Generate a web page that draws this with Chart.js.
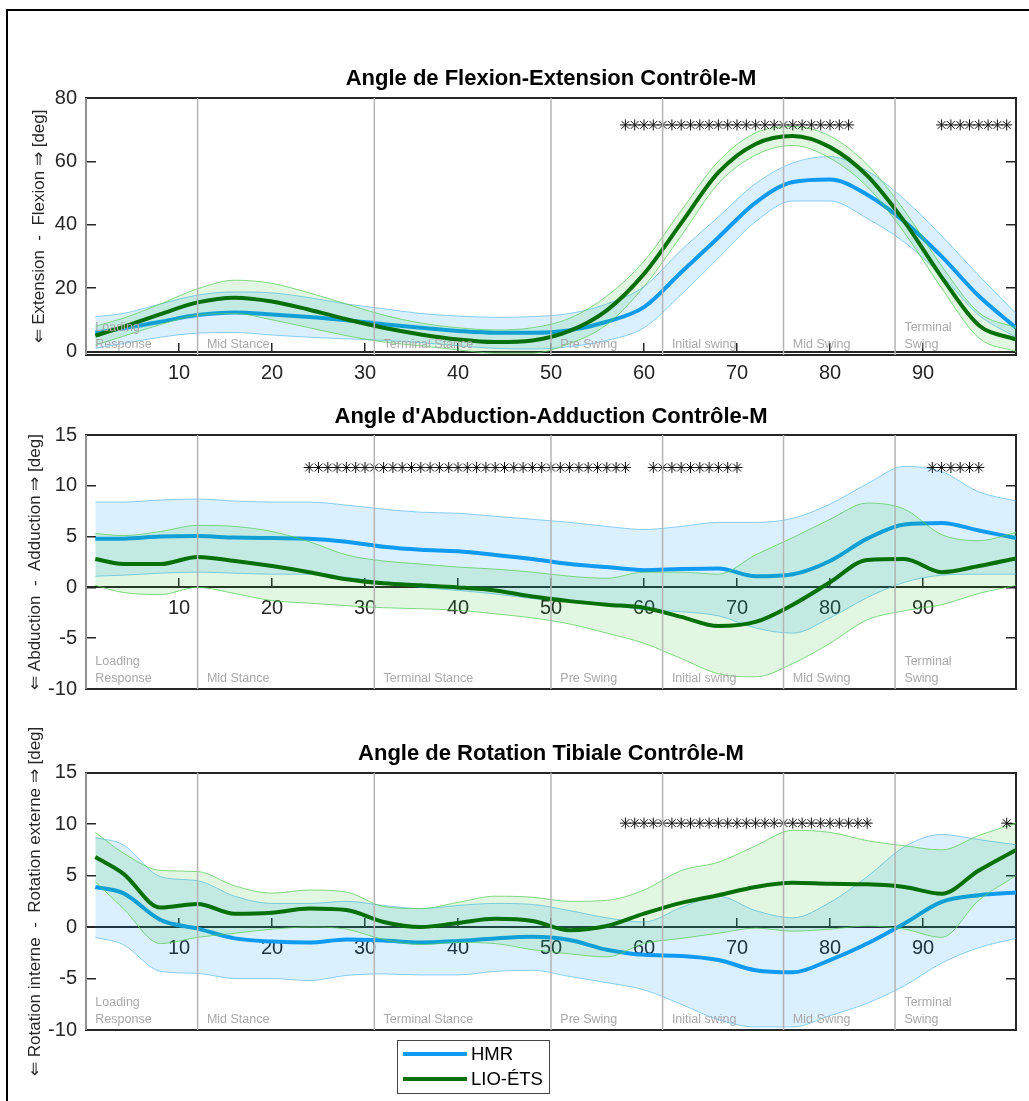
<!DOCTYPE html>
<html>
<head>
<meta charset="utf-8">
<script src="https://cdn.jsdelivr.net/npm/chart.js@4.4.1/dist/chart.umd.min.js"></script>
<style>
  html, body { margin: 0; padding: 0; background: #fff; overflow: hidden; }
  #page { position: relative; width: 1029px; height: 1101px; overflow: hidden; }
  #frame { position: absolute; left: 6px; top: 9px; width: 1100px; height: 1200px; border: 2px solid #000; }
  canvas { position: absolute; left: 0; }
</style>
</head>
<body>
<div id="page">
  <div id="frame"></div>
  <canvas id="flex" width="1029" height="390" style="top:0px"></canvas>
  <canvas id="abd" width="1029" height="330" style="top:390px"></canvas>
  <canvas id="rot" width="1029" height="381" style="top:720px"></canvas>
</div>
<script>
// % of gait cycle where the curves are sampled
const gaitPct = [1, 4, 8, 12, 16, 20, 24, 28, 32, 36, 40, 44, 48, 52, 56, 60, 64, 68, 72, 76, 80, 84, 88, 92, 96, 100];
const xTicks = [10, 20, 30, 40, 50, 60, 70, 80, 90];
const flexTicks = [0, 20, 40, 60, 80];
const smallTicks = [-10, -5, 0, 5, 10, 15];

// gait phases (start, in %)
const phaseStarts = [0, 12, 31, 50, 62, 75, 87];
const phaseNames = [['Loading', 'Response'], ['Mid Stance'], ['Terminal Stance'], ['Pre Swing'], ['Initial swing'], ['Mid Swing'], ['Terminal', 'Swing']];

// flexion / extension (deg): mean, mean+sd, mean-sd
const hmrFlex   = [6.0, 7.3, 9.4, 11.5, 12.3, 11.7, 10.9, 9.9, 8.6, 7.5, 6.5, 5.9, 5.9, 6.7, 9.4, 14.0, 25.0, 36.0, 47.0, 53.5, 54.3, 49.5, 41.0, 30.0, 17.5, 7.5];
const hmrFlexHi = [11.0, 12.0, 15.0, 17.8, 18.8, 18.5, 17.0, 15.0, 13.5, 12.0, 11.2, 10.8, 11.0, 12.0, 15.0, 20.5, 32.0, 42.5, 53.0, 59.5, 61.5, 57.0, 48.0, 36.5, 24.0, 12.0];
const hmrFlexLo = [1.0, 2.5, 4.5, 5.8, 6.0, 5.2, 4.5, 4.0, 3.5, 2.8, 1.8, 1.0, 0.8, 1.5, 3.5, 7.5, 18.0, 29.5, 41.0, 47.5, 47.5, 42.0, 34.5, 24.0, 11.5, 4.5];
const lioFlex   = [5.0, 7.8, 11.8, 15.5, 17.0, 15.8, 13.2, 10.2, 7.5, 5.4, 3.8, 3.0, 3.5, 6.5, 13.0, 24.5, 40.5, 56.5, 65.5, 68.0, 64.5, 55.5, 41.0, 23.5, 8.3, 3.8];
const lioFlexHi = [8.0, 10.5, 15.0, 19.8, 22.5, 21.5, 18.5, 15.0, 11.5, 9.0, 7.5, 6.8, 7.5, 10.5, 17.5, 28.5, 44.5, 60.0, 69.0, 71.0, 68.0, 59.0, 44.5, 27.0, 12.3, 7.5];
const lioFlexLo = [2.0, 4.8, 8.5, 11.5, 12.0, 10.0, 7.5, 5.0, 3.0, 1.8, 0.5, -0.5, -0.5, 2.5, 8.5, 20.5, 36.5, 53.0, 62.0, 65.0, 61.0, 52.0, 37.5, 20.0, 4.3, 0.0];

// abduction / adduction (deg)
const hmrAbd   = [4.8, 4.8, 5.0, 5.05, 4.9, 4.85, 4.8, 4.5, 4.0, 3.7, 3.55, 3.2, 2.8, 2.3, 2.0, 1.7, 1.8, 1.85, 1.1, 1.3, 2.6, 4.8, 6.2, 6.35, 5.6, 4.85];
const hmrAbdHi = [8.4, 8.4, 8.6, 8.7, 8.5, 8.4, 8.4, 8.1, 7.7, 7.4, 7.3, 7.0, 6.7, 6.4, 6.0, 5.7, 6.0, 6.4, 6.4, 6.8, 8.2, 10.2, 11.9, 11.4, 9.4, 8.5];
const hmrAbdLo = [1.1, 1.2, 1.4, 1.5, 1.4, 1.3, 1.3, 1.0, 0.5, 0.0, -0.3, -0.65, -1.1, -1.4, -1.7, -2.2, -2.4, -2.8, -4.0, -4.5, -3.0, -1.0, 0.5, 1.2, 1.3, 1.3];
const lioAbd   = [2.8, 2.3, 2.3, 3.0, 2.6, 2.1, 1.5, 0.8, 0.4, 0.2, 0.0, -0.3, -0.9, -1.35, -1.7, -2.0, -2.9, -3.8, -3.4, -1.7, 0.5, 2.7, 2.8, 1.5, 2.1, 2.85];
const lioAbdHi = [5.3, 5.1, 5.5, 6.1, 6.0, 5.5, 4.5, 3.2, 2.6, 2.3, 2.0, 1.8, 1.5, 1.1, 0.9, 1.5, 1.5, 1.3, 3.2, 4.9, 6.7, 8.3, 7.7, 5.2, 4.6, 5.4];
const lioAbdLo = [0.2, -0.5, -0.7, 0.0, -0.6, -1.3, -1.55, -1.8, -2.0, -2.1, -2.25, -2.6, -3.0, -3.6, -4.5, -5.5, -7.0, -8.5, -8.8, -7.5, -5.5, -3.2, -2.3, -1.7, -0.6, 0.2];

// tibial rotation (deg)
const hmrRot   = [3.9, 3.3, 0.7, -0.15, -1.1, -1.4, -1.5, -1.2, -1.3, -1.5, -1.35, -1.1, -0.95, -1.25, -2.2, -2.7, -2.8, -3.2, -4.2, -4.4, -3.2, -1.6, 0.35, 2.45, 3.1, 3.35];
const hmrRotHi = [8.7, 8.0, 4.9, 4.5, 3.0, 2.3, 2.3, 2.5, 2.1, 1.8, 2.1, 2.3, 2.2, 1.6, 0.9, 0.5, 1.9, 3.0, 1.6, 0.9, 2.4, 4.9, 7.8, 9.0, 8.5, 8.0];
const hmrRotLo = [-1.0, -1.7, -4.3, -4.5, -5.0, -5.0, -5.2, -4.7, -4.55, -4.65, -4.65, -4.3, -4.2, -4.8, -5.4, -6.1, -7.5, -9.0, -9.7, -9.7, -8.6, -7.4, -5.7, -3.5, -2.0, -1.1];
const lioRot   = [6.8, 5.2, 1.9, 2.25, 1.3, 1.4, 1.8, 1.65, 0.5, 0.0, 0.4, 0.8, 0.6, -0.3, 0.1, 1.3, 2.35, 3.1, 3.9, 4.3, 4.2, 4.15, 3.9, 3.25, 5.5, 7.5];
const lioRotHi = [9.2, 7.2, 5.5, 5.4, 4.0, 3.3, 3.6, 3.4, 2.0, 1.8, 2.4, 3.0, 2.9, 2.5, 2.6, 3.6, 5.5, 6.3, 7.9, 9.4, 9.2, 8.4, 7.9, 7.5, 8.9, 10.1];
const lioRotLo = [4.4, 1.8, -1.6, -1.0, -0.6, -0.2, 0.0, -0.2, -1.2, -1.7, -1.5, -1.6, -2.2, -2.6, -2.9, -1.6, -1.1, -0.6, -0.1, -0.4, -0.2, 0.1, -0.2, -1.0, 2.6, 5.0];

// % of cycle where the difference is significant (*)
const sigFlex = [58, 59, 60, 61, 62, 63, 64, 65, 66, 67, 68, 69, 70, 71, 72, 73, 74, 75, 76, 77, 78, 79, 80, 81, 82, 92, 93, 94, 95, 96, 97, 98, 99];
const sigAbd = [24, 25, 26, 27, 28, 29, 30, 31, 32, 33, 34, 35, 36, 37, 38, 39, 40, 41, 42, 43, 44, 45, 46, 47, 48, 49, 50, 51, 52, 53, 54, 55, 56, 57, 58,
                61, 62, 63, 64, 65, 66, 67, 68, 69, 70, 91, 92, 93, 94, 95, 96];
const sigRot = [58, 59, 60, 61, 62, 63, 64, 65, 66, 67, 68, 69, 70, 71, 72, 73, 74, 75, 76, 77, 78, 79, 80, 81, 82, 83, 84, 99];

const FONT = '"Liberation Sans", Arial, Helvetica, sans-serif';
const INK = '#262626';
const HMR_LINE = '#0f9bf2', HMR_EDGE = 'rgba(70,175,240,0.6)', HMR_FILL = 'rgba(0,150,255,0.14)';
const LIO_LINE = '#087008', LIO_EDGE = 'rgba(90,205,90,0.75)', LIO_FILL = 'rgba(30,190,30,0.13)';

const pts = ys => gaitPct.map((x, i) => ({ x: x, y: ys[i] }));

// gray phase separators + phase names along the bottom of the axes
const phasePlugin = {
  id: 'phases',
  afterDatasetsDraw(chart) {
    const { ctx, chartArea: a, scales: { x } } = chart;
    ctx.save();
    ctx.strokeStyle = '#b4b4b4';
    ctx.lineWidth = 1.5;
    phaseStarts.forEach(p => {
      const px = x.getPixelForValue(p);
      ctx.beginPath();
      ctx.moveTo(px, a.top);
      ctx.lineTo(px, a.bottom);
      ctx.stroke();
    });
    ctx.fillStyle = '#a9a9a9';
    ctx.font = '12.5px ' + FONT;
    ctx.textAlign = 'left';
    ctx.textBaseline = 'middle';
    phaseNames.forEach((lines, i) => {
      const px = x.getPixelForValue(phaseStarts[i] + 1);
      lines.forEach((t, j) => {
        ctx.fillText(t, px, a.bottom - 10.5 - (lines.length - 1 - j) * 16.5);
      });
    });
    ctx.restore();
  }
};

// boxed legend under the last axes
const legendPlugin = {
  id: 'gaitLegend',
  afterDraw(chart, args, opts) {
    if (!opts.show) return;
    const { ctx } = chart;
    const items = chart.data.datasets.filter(d => d.inLegend);
    ctx.save();
    ctx.fillStyle = '#fff';
    ctx.fillRect(opts.left, opts.top, opts.width, opts.height);
    ctx.strokeStyle = '#444';
    ctx.lineWidth = 1;
    ctx.strokeRect(opts.left + 0.5, opts.top + 0.5, opts.width, opts.height);
    ctx.font = '18.5px ' + FONT;
    ctx.textBaseline = 'middle';
    ctx.fillStyle = '#000';
    items.forEach((d, i) => {
      const y = opts.top + 14 + i * 25;
      ctx.strokeStyle = d.borderColor;
      ctx.lineWidth = 4;
      ctx.beginPath();
      ctx.moveTo(opts.left + 6, y);
      ctx.lineTo(opts.left + 70, y);
      ctx.stroke();
      ctx.fillText(d.label, opts.left + 74, y + 1);
    });
    ctx.restore();
  }
};

function gaitChart(id, o) {
  const tickFont = { family: FONT, size: 20 };
  const sideAxis = (position) => ({
    type: 'linear', position: position, min: o.yMin, max: o.yMax,
    afterBuildTicks: s => { s.ticks = o.yTicks.map(v => ({ value: v })); },
    afterFit: s => { s.width = position === 'left' ? 86 : 0; },
    grid: { drawOnChartArea: false, tickLength: -10, color: INK, lineWidth: 1.5 },
    border: { color: INK, width: 2 },
    ticks: { display: position === 'left', font: tickFont, color: INK, padding: 19, callback: v => String(v) },
    title: { display: position === 'left', text: o.yTitle, color: INK,
             font: { family: FONT, size: 17, lineHeight: 1.2 }, padding: { top: o.yTitlePad, bottom: 0 } }
  });
  const edgeAxis = (position) => ({
    type: 'linear', position: position, min: 0, max: 100,
    afterFit: s => { s.height = 0; },
    grid: { display: false }, ticks: { display: false },
    border: { color: INK, width: 2 }
  });

  return new Chart(document.getElementById(id), {
    type: 'line',
    data: {
      datasets: [
        { label: 'HMR sup', data: pts(o.hmrHi), borderColor: HMR_EDGE, borderWidth: 1, backgroundColor: HMR_FILL, fill: '+1', order: 6 },
        { label: 'HMR inf', data: pts(o.hmrLo), borderColor: HMR_EDGE, borderWidth: 1, fill: false, order: 5 },
        { label: 'HMR', data: pts(o.hmr), borderColor: HMR_LINE, borderWidth: 4, fill: false, order: 4, inLegend: true },
        { label: 'LIO sup', data: pts(o.lioHi), borderColor: LIO_EDGE, borderWidth: 1, backgroundColor: LIO_FILL, fill: '+1', order: 3 },
        { label: 'LIO inf', data: pts(o.lioLo), borderColor: LIO_EDGE, borderWidth: 1, fill: false, order: 2 },
        { label: 'LIO-ÉTS', data: pts(o.lio), borderColor: LIO_LINE, borderWidth: 4, fill: false, order: 1, inLegend: true },
        { label: 'p < 0.05', data: o.sig.map(x => ({ x: x, y: o.sigY })), showLine: false, pointStyle: 'star',
          pointRadius: 5.5, borderColor: '#111', borderWidth: 1, order: 0 }
      ]
    },
    options: {
      responsive: false,
      animation: false,
      events: [],
      elements: { point: { radius: 0, hoverRadius: 0 }, line: { cubicInterpolationMode: 'monotone' } },
      layout: { padding: { top: 0, left: 0, right: 13, bottom: o.padBottom } },
      scales: {
        x: {
          type: 'linear', min: 0, max: 100, position: { y: 0 },
          afterBuildTicks: s => { s.ticks = xTicks.map(v => ({ value: v })); },
          grid: { drawOnChartArea: false, tickLength: -10, color: INK, lineWidth: 1.5 },
          border: { color: INK, width: 2 },
          ticks: { font: tickFont, color: INK, padding: 19.5, maxRotation: 0 }
        },
        xTop: edgeAxis('top'),
        xBottom: edgeAxis('bottom'),
        y: sideAxis('left'),
        yRight: sideAxis('right')
      },
      plugins: {
        legend: { display: false },
        tooltip: { enabled: false },
        title: {
          display: true, text: o.title, color: '#000', fullSize: false,
          font: { family: FONT, size: 22, weight: 'bold', lineHeight: 1.2 },
          padding: { top: o.titleTop, bottom: o.titleBottom }
        },
        gaitLegend: o.legend || { show: false }
      }
    },
    plugins: [phasePlugin, legendPlugin]
  });
}

gaitChart('flex', {
  title: 'Angle de Flexion-Extension Contrôle-M',
  yTitle: '⇐ Extension  -  Flexion ⇒ [deg]', yTitlePad: 29.5,
  yMin: -1.1, yMax: 80, yTicks: flexTicks,
  titleTop: 65.8, titleBottom: 5.8, padBottom: 35,
  hmr: hmrFlex, hmrHi: hmrFlexHi, hmrLo: hmrFlexLo,
  lio: lioFlex, lioHi: lioFlexHi, lioLo: lioFlexLo,
  sig: sigFlex, sigY: 71.5
});

gaitChart('abd', {
  title: "Angle d'Abduction-Adduction Contrôle-M",
  yTitle: '⇐ Abduction  -  Adduction ⇒ [deg]', yTitlePad: 25,
  yMin: -10, yMax: 15, yTicks: smallTicks,
  titleTop: 13.8, titleBottom: 4.8, padBottom: 27,
  hmr: hmrAbd, hmrHi: hmrAbdHi, hmrLo: hmrAbdLo,
  lio: lioAbd, lioHi: lioAbdHi, lioLo: lioAbdLo,
  sig: sigAbd, sigY: 11.8
});

gaitChart('rot', {
  title: 'Angle de Rotation Tibiale Contrôle-M',
  yTitle: '⇐ Rotation interne  -  Rotation externe ⇒ [deg]', yTitlePad: 25,
  yMin: -10, yMax: 15, yTicks: smallTicks,
  titleTop: 20.8, titleBottom: 5.5, padBottom: 71,
  hmr: hmrRot, hmrHi: hmrRotHi, hmrLo: hmrRotLo,
  lio: lioRot, lioHi: lioRotHi, lioLo: lioRotLo,
  sig: sigRot, sigY: 10.1,
  legend: { show: true, left: 397, top: 320, width: 152, height: 53 }
});
</script>
</body>
</html>
